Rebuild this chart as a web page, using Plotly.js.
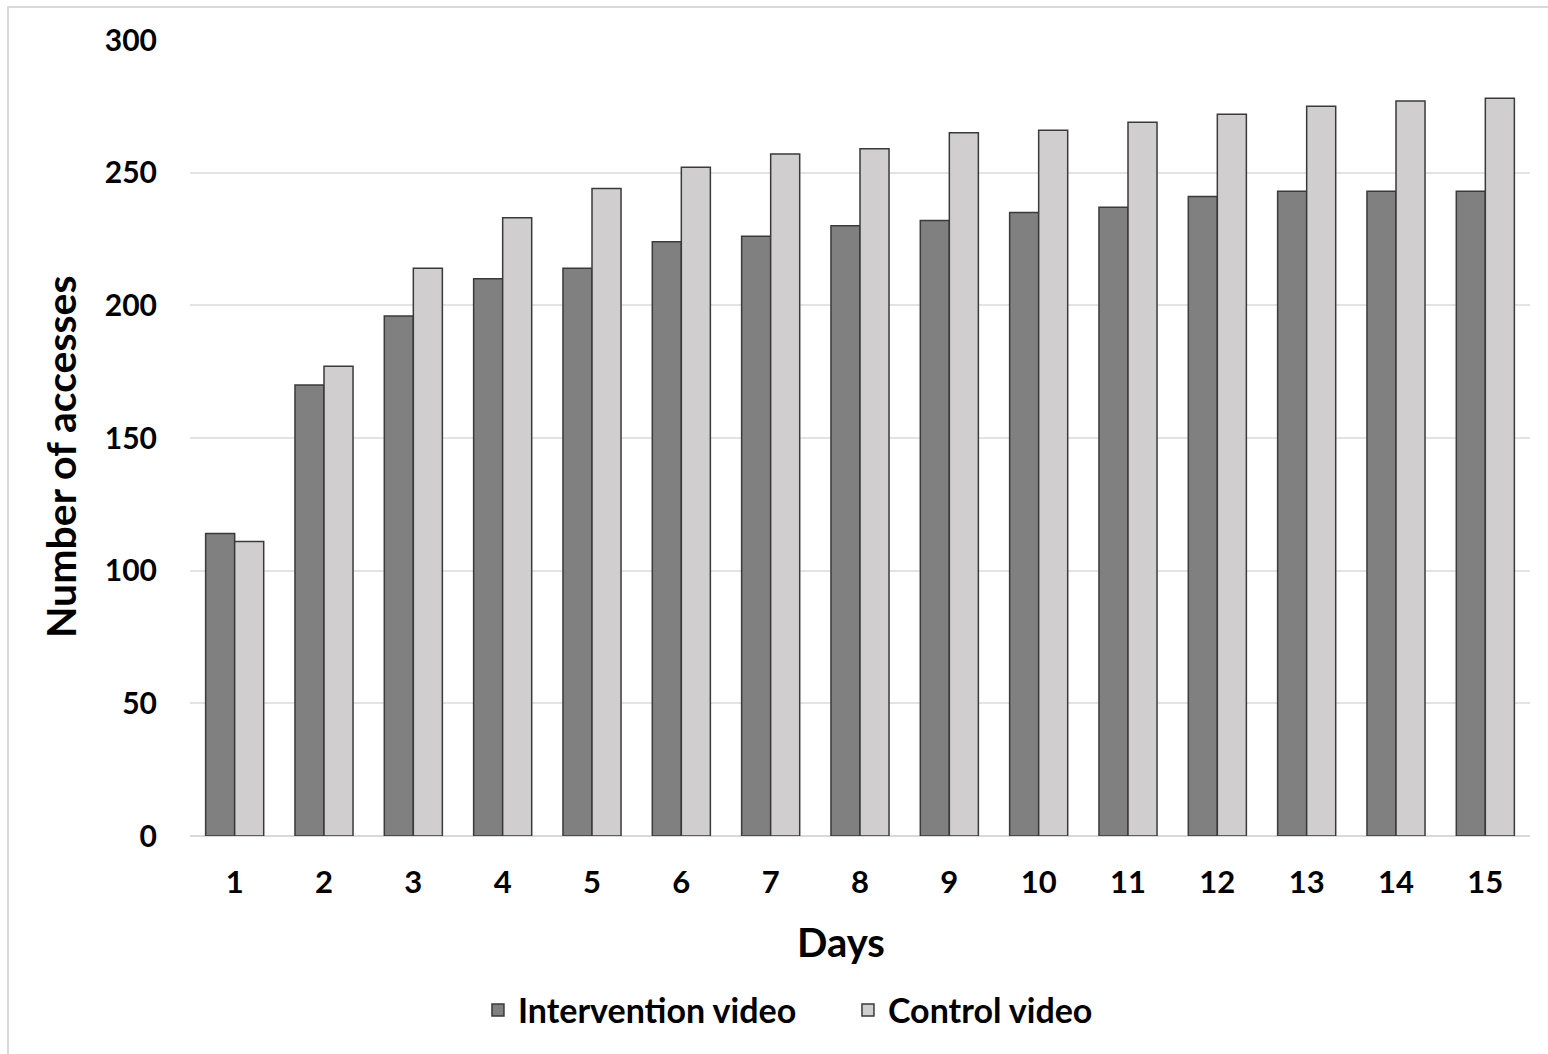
<!DOCTYPE html>
<html>
<head>
<meta charset="utf-8">
<script src="https://cdn.plot.ly/plotly-3.0.1.min.js"></script>
<style>
  html, body { margin: 0; padding: 0; background: #fff; }
  #frame { position: absolute; left: 7px; top: 6px; width: 1600px; height: 1100px;
           border-left: 2px solid #d9d9d9; border-top: 2px solid #d9d9d9; pointer-events: none; }
  #chart { position: absolute; left: 0; top: 0; width: 1548px; height: 1054px; }
</style>
</head>
<body>
<div id="frame"></div>
<div id="chart"></div>
<script>
const days = ["1","2","3","4","5","6","7","8","9","10","11","12","13","14","15"];
const interventionVideo = [114, 170, 196, 210, 214, 224, 226, 230, 232, 235, 237, 241, 243, 243, 243];
const controlVideo      = [111, 177, 214, 233, 244, 252, 257, 259, 265, 266, 269, 272, 275, 277, 278];
const yTicks = [0, 50, 100, 150, 200, 250, 300];
const xTitle = "Days";
const yTitle = "Number of accesses";

const fontFam = "Lato, 'Open Sans', sans-serif";

const traces = [
  {
    type: "bar", name: "Intervention video", x: days, y: interventionVideo,
    marker: { color: "#808080", line: { color: "#3a3a3a", width: 1.5 } },
    hoverinfo: "x+y+name"
  },
  {
    type: "bar", name: "Control video", x: days, y: controlVideo,
    marker: { color: "#d0cecf", line: { color: "#3a3a3a", width: 1.5 } },
    hoverinfo: "x+y+name"
  }
];

const layout = {
  width: 1548, height: 1054,
  margin: { l: 190, r: 18, t: 40, b: 218 },
  paper_bgcolor: "rgba(0,0,0,0)",
  plot_bgcolor: "rgba(0,0,0,0)",
  font: { family: fontFam, color: "#000", weight: "bold" },
  barmode: "group",
  bargap: 0.35,
  bargroupgap: 0,
  showlegend: true,
  legend: {
    orientation: "h", x: 0.2149, xanchor: "left", y: -0.219, yanchor: "middle",
    font: { family: fontFam, size: 34, color: "#000", weight: "bold" },
    traceorder: "normal",
    entrywidth: 325, entrywidthmode: "pixels"
  },
  xaxis: {
    type: "category",
    showgrid: false, zeroline: false,
    showline: false, ticks: "",
    tickfont: { family: fontFam, size: 31, color: "#000", weight: "bold" },
    ticklabelstandoff: 25
  },
  yaxis: {
    range: [0, 300],
    tickvals: yTicks,
    showgrid: true, gridcolor: "#e3e3e3", gridwidth: 1.5,
    zeroline: true, zerolinecolor: "#d9d9d9", zerolinewidth: 1.5,
    showline: false, ticks: "",
    tickfont: { family: fontFam, size: 30, color: "#000", weight: "bold" },
    ticklabelstandoff: 32
  },
  annotations: [
    {
      text: xTitle, xref: "paper", yref: "paper", x: 0.486, y: -0.133,
      xanchor: "center", yanchor: "middle", showarrow: false,
      font: { family: fontFam, size: 40, color: "#000", weight: "bold" }
    },
    {
      text: yTitle, xref: "paper", yref: "paper", x: -0.097, y: 0.476,
      xanchor: "center", yanchor: "middle", showarrow: false, textangle: -90,
      font: { family: fontFam, size: 41, color: "#000", weight: "bold" }
    }
  ]
};

Plotly.newPlot("chart", traces, layout, { displayModeBar: false, responsive: false });
</script>
</body>
</html>
